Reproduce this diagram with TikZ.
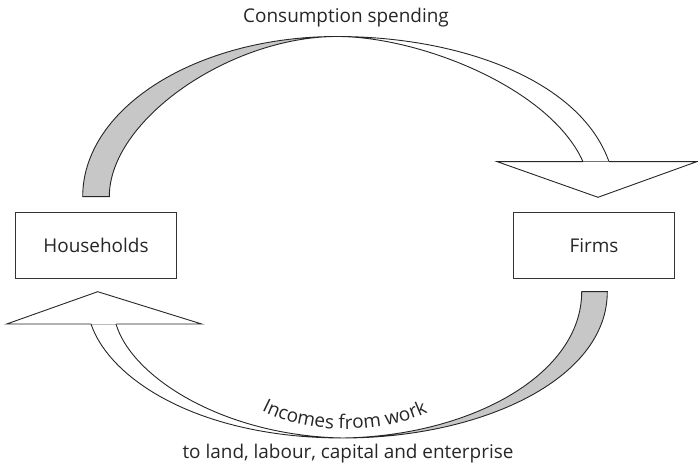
\documentclass[tikz,border=0pt]{standalone}
\usepackage{fontspec}
\setmainfont{Open Sans}
\usetikzlibrary{decorations.text}
\begin{document}
\begin{tikzpicture}[x=1bp,y=-1bp,
  ribline/.style={draw=black!85, line width=0.9bp, line join=miter},
  graypart/.style={ribline, fill=black!22},
  whitepart/.style={ribline, fill=white},
  box/.style={draw=black!80, line width=0.9bp, minimum width=161bp, minimum height=66bp, inner sep=0pt, font=\fontsize{19}{21}\selectfont, text=black!85},
  lbl/.style={font=\fontsize{19}{21}\selectfont, text=black!85, inner sep=0pt, anchor=base}]
\useasboundingbox (0,0) rectangle (698,472);

% nodes
\node[box] (hh) at (96,245.5) {Households};
\node[box] (firms) at (594,245.5) {Firms};
\node[lbl] (cons) at (346,22.5) {Consumption spending};
\node[lbl] (land) at (348,458.5) {to land, labour, capital and enterprise};

% key points
\coordinate (T) at (337,36.5);
\coordinate (B) at (343,438);

% top ribbon: grey back (left)
\path[graypart] (82.7,196.7) .. controls (82.7,107.8) and (196.7,36.5) .. (T)
  .. controls (230,36.5) and (109.3,120) .. (109.3,196.7) -- cycle;
% top ribbon: white front (right)
\path[whitepart] (T) .. controls (460,36.5) and (580,80) .. (609,161.7)
  -- (583,161.7) .. controls (550,88) and (420,36.5) .. (T) -- cycle;
% top arrowhead
\fill[white] (583,161.7) -- (497.3,161.7) -- (598,197.3) -- (696.7,161.7) -- (609,161.7) -- cycle;
\draw[ribline] (583,161.7) -- (497.3,161.7) -- (598,197.3) -- (696.7,161.7) -- (609,161.7);

% bottom ribbon: grey back (right)
\path[graypart] (607.3,291.7) .. controls (607.3,380) and (480,438) .. (B)
  .. controls (470,436) and (581.7,375) .. (581.7,291.7) -- cycle;
% bottom ribbon: white front (left)
\path[whitepart] (B) .. controls (200,438) and (110,380) .. (91,324)
  -- (116,324) .. controls (132,378) and (225,436) .. (B) -- cycle;
% bottom arrowhead
\fill[white] (91,324) -- (6.7,324) -- (97.7,291.7) -- (201.7,324) -- (116,324) -- cycle;
\draw[ribline] (91,324) -- (6.7,324) -- (97.7,291.7) -- (201.7,324) -- (116,324);

% curved label
\path[decorate, decoration={text along path, text align=center,
   text={|\fontsize{19}{21}\selectfont\color{black!85}|Incomes from work}}]
   (250,404) .. controls (298,436) and (385,438) .. (440,406);
\end{tikzpicture}
\end{document}
